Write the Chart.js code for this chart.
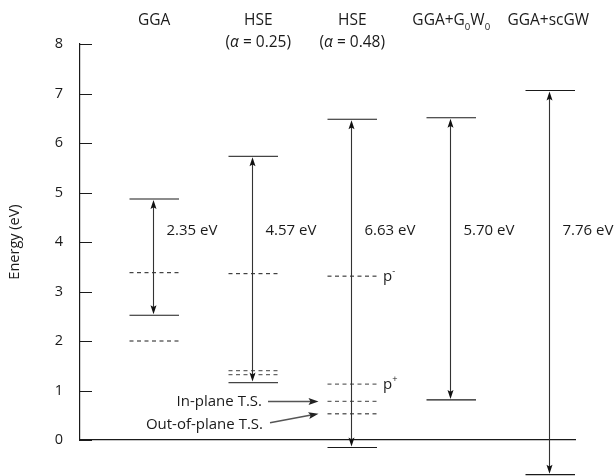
<!DOCTYPE html>
<html>
<head>
<meta charset="utf-8">
<script src="https://cdn.jsdelivr.net/npm/chart.js@4/dist/chart.umd.min.js"></script>
<style>
  html, body { margin: 0; padding: 0; background: #fff; }
  #wrap { width: 616px; height: 476px; }
</style>
</head>
<body>
<div id="wrap"><canvas id="c" width="616" height="476"></canvas></div>
<script>
// Band-edge energies (eV) for each level of theory
const methods = ['GGA', 'HSE (α = 0.25)', 'HSE (α = 0.48)', 'GGA+G0W0', 'GGA+scGW'];
const cbm = [4.87, 5.73, 6.48, 6.51, 7.06];
const vbm = [2.52, 1.16, -0.15, 0.81, -0.70];
// Defect / transition-state levels drawn dashed
const defectLevels = [
  [3.38, 2.00],
  [3.36, 1.40, 1.32],
  [3.31, 1.13, 0.78, 0.53],
  [],
  []
];
const yTicks = [0, 1, 2, 3, 4, 5, 6, 7, 8];

const FONT = '"Open Sans", "Noto Sans", sans-serif';
const INK = '#1a1a1a';
const GREY = '#555';
const HALF = 0.25;        // half-width of a level line, in column units
const GAP_LABEL_Y = 4.22; // vertical placement of the gap text

// Header text, split into styled runs
const headerRuns = [
  [[{ t: 'GGA' }]],
  [[{ t: 'HSE' }], [{ t: '(' }, { t: 'α', it: true }, { t: ' = 0.25)' }]],
  [[{ t: 'HSE' }], [{ t: '(' }, { t: 'α', it: true }, { t: ' = 0.48)' }]],
  [[{ t: 'GGA+G' }, { t: '0', sub: true }, { t: 'W' }, { t: '0', sub: true }]],
  [[{ t: 'GGA+scGW' }]]
];
const headerShift = [0, 5, 0, 0, -2];

// One dataset per horizontal level
const datasets = [];
methods.forEach((m, i) => {
  const edgeColor = i === 1 ? '#444' : INK;
  [cbm[i], vbm[i]].forEach(v => {
    datasets.push({
      data: [{ x: i - HALF, y: v }, { x: i + HALF, y: v }],
      borderColor: edgeColor, borderWidth: 1.1, pointRadius: 0, clip: false
    });
  });
  defectLevels[i].forEach((v, k) => {
    const grey = (i === 1 && k > 0) || (i === 2 && k > 0);
    datasets.push({
      data: [{ x: i - HALF, y: v }, { x: i + HALF, y: v }],
      borderColor: grey ? '#666' : INK, borderWidth: grey ? 1.3 : 1,
      borderDash: [4, 3.5], pointRadius: 0, clip: false
    });
  });
});

function runFont(r, size) {
  const s = r.sub || r.sup ? size * 0.62 : size;
  return (r.it ? 'italic ' : '') + s + 'px ' + FONT;
}
function drawRuns(ctx, runs, cx, cy, size, align) {
  let w = 0;
  runs.forEach(r => { ctx.font = runFont(r, size); r.w = ctx.measureText(r.t).width; w += r.w; });
  let xx = align === 'right' ? cx - w : align === 'left' ? cx : cx - w / 2;
  ctx.textAlign = 'left';
  ctx.textBaseline = 'middle';
  runs.forEach(r => {
    ctx.font = runFont(r, size);
    const dy = r.sub ? size * 0.38 : r.sup ? -size * 0.38 : 0;
    ctx.fillText(r.t, xx, cy + dy);
    xx += r.w;
  });
}
function arrowHead(ctx, tx, ty, ang, len, wid) {
  ctx.save();
  ctx.translate(tx, ty);
  ctx.rotate(ang);
  ctx.beginPath();
  ctx.moveTo(0, 0);
  ctx.lineTo(-len, -wid / 2);
  ctx.lineTo(-len * 0.8, 0);
  ctx.lineTo(-len, wid / 2);
  ctx.closePath();
  ctx.fill();
  ctx.restore();
}

const overlay = {
  id: 'overlay',
  afterDraw(chart) {
    const { ctx, scales: { x, y } } = chart;
    ctx.save();

    // inward tick marks on the energy axis
    ctx.strokeStyle = INK;
    ctx.lineWidth = 1;
    y.ticks.forEach(t => {
      const py = Math.round(y.getPixelForValue(t.value)) + 0.5;
      ctx.beginPath();
      ctx.moveTo(x.left, py);
      ctx.lineTo(x.left + 12, py);
      ctx.stroke();
    });

    // double-headed gap arrows and their labels
    methods.forEach((m, i) => {
      const px = Math.round(x.getPixelForValue(i)) - 0.5;
      const top = y.getPixelForValue(cbm[i]);
      const bot = y.getPixelForValue(vbm[i]);
      ctx.strokeStyle = '#333';
      ctx.fillStyle = '#111';
      ctx.lineWidth = 1.1;
      ctx.beginPath();
      ctx.moveTo(px, top + 4);
      ctx.lineTo(px, bot - 4);
      ctx.stroke();
      arrowHead(ctx, px, top + 1, -Math.PI / 2, 9, 6);
      arrowHead(ctx, px, bot - 1, Math.PI / 2, 9, 6);

      ctx.fillStyle = INK;
      const gap = (cbm[i] - vbm[i]).toFixed(2) + ' eV';
      drawRuns(ctx, [{ t: gap }], px + 13, y.getPixelForValue(GAP_LABEL_Y), 15, 'left');

      // column headers
      const hx = x.getPixelForValue(i) + headerShift[i];
      headerRuns[i].forEach((line, li) => {
        drawRuns(ctx, line, hx, 21 + li * 22, 15.5, 'center');
      });
    });

    // p− / p+ labels beside the HSE (α = 0.48) levels
    const endX = x.getPixelForValue(2 + HALF) + 6;
    ctx.fillStyle = INK;
    drawRuns(ctx, [{ t: 'p' }, { t: '-', sup: true }], endX, y.getPixelForValue(defectLevels[2][0]) + 1, 15, 'left');
    drawRuns(ctx, [{ t: 'p' }, { t: '+', sup: true }], endX, y.getPixelForValue(defectLevels[2][1]) + 1, 15, 'left');

    // transition-state call-outs
    const tipX = x.getPixelForValue(2 - HALF) - 9;
    const inY = y.getPixelForValue(defectLevels[2][2]);
    const outY = y.getPixelForValue(defectLevels[2][3]);
    drawRuns(ctx, [{ t: 'In-plane T.S.' }], 262, inY, 15, 'right');
    drawRuns(ctx, [{ t: 'Out-of-plane T.S.' }], 263, outY + 11, 15, 'right');
    ctx.strokeStyle = GREY;
    ctx.fillStyle = '#222';
    ctx.lineWidth = 1.5;
    ctx.beginPath();
    ctx.moveTo(268, inY);
    ctx.lineTo(tipX - 6, inY);
    ctx.stroke();
    arrowHead(ctx, tipX, inY, 0, 10, 7);
    const sx = 270, sy = outY + 9;
    const ang = Math.atan2(outY - sy, tipX - sx);
    ctx.beginPath();
    ctx.moveTo(sx, sy);
    ctx.lineTo(tipX - 6 * Math.cos(ang), outY - 6 * Math.sin(ang));
    ctx.stroke();
    arrowHead(ctx, tipX, outY, ang, 10, 7);

    ctx.restore();
  }
};

new Chart(document.getElementById('c'), {
  type: 'line',
  data: { datasets },
  options: {
    responsive: false,
    animation: false,
    events: [],
    layout: { padding: { top: 44, right: 41, bottom: 36, left: 0 } },
    plugins: { legend: { display: false }, tooltip: { enabled: false } },
    scales: {
      x: {
        type: 'linear', min: -0.75, max: 4.25,
        ticks: { display: false },
        grid: { display: false, drawTicks: false },
        border: { display: true, color: INK, width: 1.2 }
      },
      y: {
        type: 'linear', min: 0, max: 8,
        afterBuildTicks: s => { s.ticks = yTicks.map(v => ({ value: v })); },
        afterFit: s => { s.width = 80; },
        ticks: { color: INK, padding: 17, font: { family: FONT, size: 14.5 } },
        grid: { display: false, drawTicks: false },
        border: { display: true, color: INK, width: 1.2 },
        title: { display: true, text: 'Energy (eV)', color: INK, padding: { top: 6, bottom: 0 }, font: { family: FONT, size: 14.5 } }
      }
    }
  },
  plugins: [overlay]
});
</script>
</body>
</html>
